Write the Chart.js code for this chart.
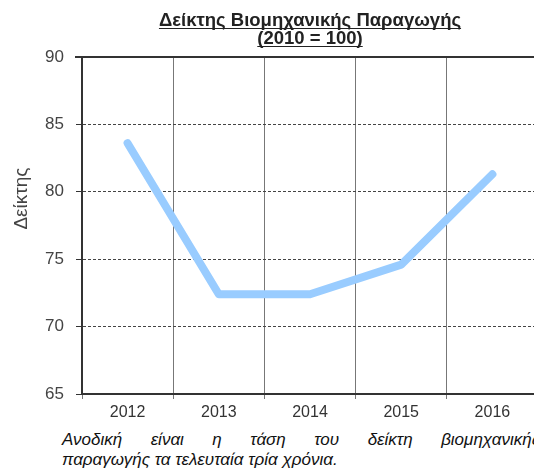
<!DOCTYPE html>
<html>
<head>
<meta charset="utf-8">
<script src="https://cdn.jsdelivr.net/npm/chart.js@4/dist/chart.umd.min.js"></script>
<style>
  html, body { margin: 0; padding: 0; background: #fff; overflow: hidden; width: 534px; height: 468px; }
  #wrap { position: absolute; left: 0; top: 0; width: 545px; height: 425px; }
  .cap { position: absolute; left: 62px; font: italic 17px "Liberation Sans", Arial, sans-serif; color: #111; white-space: nowrap; line-height: 19px; }
  #cap1 { top: 430px; width: 478px; text-align: justify; text-align-last: justify; white-space: normal; }
  #cap2 { top: 450px; }
</style>
</head>
<body>
<div id="wrap"><canvas id="c" width="545" height="425"></canvas></div>
<div class="cap" id="cap1">Ανοδική είναι η τάση του δείκτη βιομηχανικής</div>
<div class="cap" id="cap2">παραγωγής τα τελευταία τρία χρόνια.</div>
<script>
const years = ['2012', '2013', '2014', '2015', '2016'];
const indexValues = [83.6, 72.4, 72.4, 74.6, 81.3];
const yTicks = [65, 70, 75, 80, 85, 90];
const titleLines = ['Δείκτης Βιομηχανικής Παραγωγής', '(2010 = 100)'];
const yAxisTitle = 'Δείκτης';

const FONT = '"Liberation Sans", Arial, sans-serif';

const decorPlugin = {
  id: 'decor',
  afterDraw(chart) {
    const ctx = chart.ctx;
    const a = chart.chartArea;
    ctx.save();
    // top frame line
    ctx.strokeStyle = '#333';
    ctx.lineWidth = 2;
    ctx.beginPath();
    ctx.moveTo(a.left - 7, a.top);
    ctx.lineTo(chart.width, a.top);
    ctx.stroke();
    // underlined two-line title, centred over the plot area
    ctx.font = 'bold 18.5px ' + FONT;
    ctx.fillStyle = '#222';
    ctx.textAlign = 'center';
    ctx.textBaseline = 'alphabetic';
    const cx = (a.left + a.right) / 2;
    const baselines = [a.top - 31, a.top - 13];
    titleLines.forEach((t, i) => {
      ctx.fillText(t, cx, baselines[i]);
      const w = ctx.measureText(t).width;
      ctx.lineWidth = 1.2;
      ctx.strokeStyle = '#222';
      ctx.beginPath();
      ctx.moveTo(cx - w / 2, baselines[i] + 2.5);
      ctx.lineTo(cx + w / 2, baselines[i] + 2.5);
      ctx.stroke();
    });
    // y axis title
    ctx.save();
    ctx.translate(22, a.top + (a.bottom - a.top) * 0.42);
    ctx.rotate(-Math.PI / 2);
    ctx.font = '19px ' + FONT;
    ctx.fillStyle = '#444';
    ctx.textAlign = 'center';
    ctx.textBaseline = 'middle';
    ctx.fillText(yAxisTitle, 0, 0);
    ctx.restore();
    ctx.restore();
  }
};

new Chart(document.getElementById('c'), {
  type: 'line',
  data: {
    labels: years,
    datasets: [{
      data: indexValues,
      borderColor: '#99ccff',
      borderWidth: 8,
      borderCapStyle: 'round',
      borderJoinStyle: 'round',
      pointRadius: 0,
      tension: 0,
      fill: false
    }]
  },
  options: {
    responsive: false,
    animation: false,
    layout: { padding: { top: 57, right: 7, left: 0, bottom: 0 } },
    plugins: { legend: { display: false }, tooltip: { enabled: false }, title: { display: false } },
    scales: {
      x: {
        offset: true,
        grid: { offset: true, color: '#777', lineWidth: 1, tickLength: 5, tickColor: '#777' },
        border: { color: '#333', width: 2 },
        ticks: { color: '#333', font: { family: FONT, size: 16 }, padding: 4, maxRotation: 0 },
        afterFit(s) { s.height = 31; }
      },
      y: {
        min: 65, max: 90,
        afterBuildTicks(s) { s.ticks = yTicks.map(v => ({ value: v })); },
        grid: { color: '#444', lineWidth: 1, tickLength: 6, tickColor: '#333', tickBorderDash: [] },
        border: { color: '#333', width: 2, dash: [3, 2] },
        ticks: { color: '#444', font: { family: FONT, size: 17 }, padding: 12 },
        afterFit(s) { s.width = 82; }
      }
    }
  },
  plugins: [decorPlugin]
});
</script>
</body>
</html>
